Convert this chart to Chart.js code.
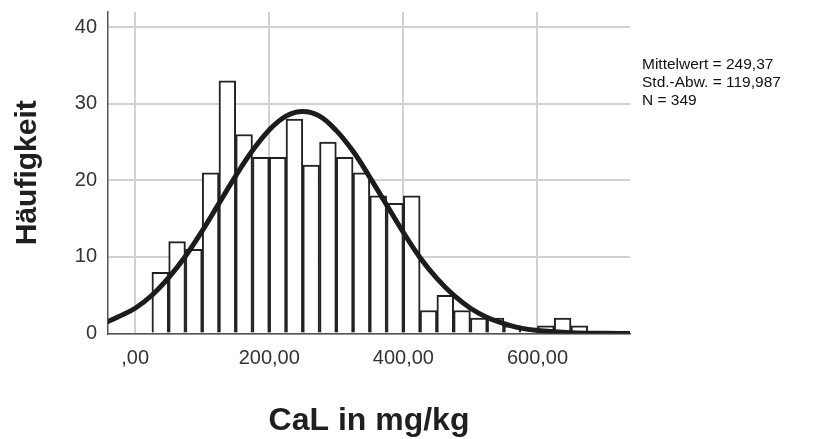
<!DOCTYPE html>
<html>
<head>
<meta charset="utf-8">
<script src="https://cdn.jsdelivr.net/npm/chart.js@4/dist/chart.umd.min.js"></script>
<style>
  body { margin: 0; background: #fff; }
  #wrap { width: 819px; height: 439px; }
</style>
</head>
<body>
<div id="wrap"><canvas id="hist" width="819" height="439"></canvas></div>
<script>
// bins of 25 mg/kg, start of each bin
var binStart = [25, 50, 75, 100, 125, 150, 175, 200, 225, 250, 275, 300, 325, 350, 375,
                400, 425, 450, 475, 500, 525, 550, 575, 600, 625, 650];
var counts = [8, 12, 11, 21, 33, 26, 23, 23, 28, 22, 25, 23, 21, 18, 17,
              18, 3, 5, 3, 2, 2, 1, 0, 1, 2, 1];
var binWidth = 25;

// normal curve
var curveX = [-50, -25, 0, 25, 50, 75, 100, 125, 150, 175, 200, 225, 250, 275, 300, 325,
              350, 375, 400, 425, 450, 475, 500, 525, 550, 575, 600, 650, 700, 750];
var curveY = [1.2, 2.2, 3.3, 5.0, 7.3, 10.1, 13.4, 17.0, 20.6, 23.9, 26.6, 28.4, 29.0, 28.4, 26.5, 23.8,
              20.4, 16.8, 13.2, 9.9, 7.2, 5.0, 3.3, 2.1, 1.3, 0.7, 0.4, 0.1, 0.02, 0.0];

var yTicks = [0, 10, 20, 30, 40];
var xTicks = [0, 200, 400, 600];
var statsLines = ['Mittelwert = 249,37', 'Std.-Abw. = 119,987', 'N = 349'];

var barData = binStart.map(function (s, i) { return { x: s + binWidth / 2, y: counts[i] }; });
var lineData = curveX.map(function (x, i) { return { x: x, y: curveY[i] }; });

var statsBox = {
    id: 'statsBox',
    afterDraw: function (chart) {
        var ctx = chart.ctx;
        ctx.save();
        ctx.fillStyle = '#111';
        ctx.font = '15.5px "Liberation Sans", Arial, sans-serif';
        ctx.textBaseline = 'alphabetic';
        for (var i = 0; i < statsLines.length; i++) {
            ctx.fillText(statsLines[i], 642, 69 + i * 18);
        }
        ctx.restore();
    }
};

var tickFont = { family: '"Liberation Sans", Arial, sans-serif', size: 20 };

var hist = new Chart(document.getElementById('hist'), {
    type: 'bar',
    data: {
        datasets: [{
                type: 'line',
                data: lineData,
                borderColor: '#1c1c1c',
                borderWidth: 5,
                pointRadius: 0,
                tension: 0.4,
                fill: false,
                order: 0
            },
            {
                data: barData,
                backgroundColor: '#ffffff',
                borderColor: '#222222',
                borderWidth: 2,
                barPercentage: 1,
                categoryPercentage: 1,
                order: 1
            }
        ]
    },
    options: {
        responsive: false,
        animation: false,
        layout: { padding: { left: 0, right: 189, top: 12, bottom: 0 } },
        plugins: { legend: { display: false }, tooltip: { enabled: false } },
        scales: {
            x: {
                type: 'linear',
                offset: false,
                min: -40.5,
                max: 738,
                afterFit: function (s) { s.height = 105.5; s.paddingLeft = 0; s.paddingRight = 0; },
                afterBuildTicks: function (s) { s.ticks = xTicks.map(function (v) { return { value: v }; }); },
                ticks: {
                    includeBounds: false,
                    color: '#333',
                    font: tickFont,
                    padding: 13,
                    maxRotation: 0,
                    callback: function (v) { return v === 0 ? ',00' : v + ',00'; }
                },
                grid: { color: '#d2d2d2', lineWidth: 2, drawTicks: false, offset: false },
                border: { color: '#555', width: 1.5 },
                title: {
                    display: true,
                    text: 'CaL in mg/kg',
                    color: '#1f1f1f',
                    font: { family: '"Liberation Sans", Arial, sans-serif', size: 32, weight: 'bold', lineHeight: 1 },
                    padding: { top: 0, bottom: 2 }
                }
            },
            y: {
                min: 0,
                max: 42,
                afterFit: function (s) { s.width = 108; s.paddingTop = 0; s.paddingBottom = 0; },
                afterBuildTicks: function (s) { s.ticks = yTicks.map(function (v) { return { value: v }; }); },
                ticks: { color: '#333', font: tickFont, padding: 11 },
                grid: { color: '#d2d2d2', lineWidth: 2, drawTicks: false },
                border: { color: '#555', width: 1.5 },
                title: {
                    display: true,
                    text: 'Häufigkeit',
                    color: '#1f1f1f',
                    font: { family: '"Liberation Sans", Arial, sans-serif', size: 30, weight: 'bold', lineHeight: 1.2 },
                    padding: { top: 10, bottom: 0 }
                }
            }
        }
    },
    plugins: [statsBox]
});
</script>
</body>
</html>
